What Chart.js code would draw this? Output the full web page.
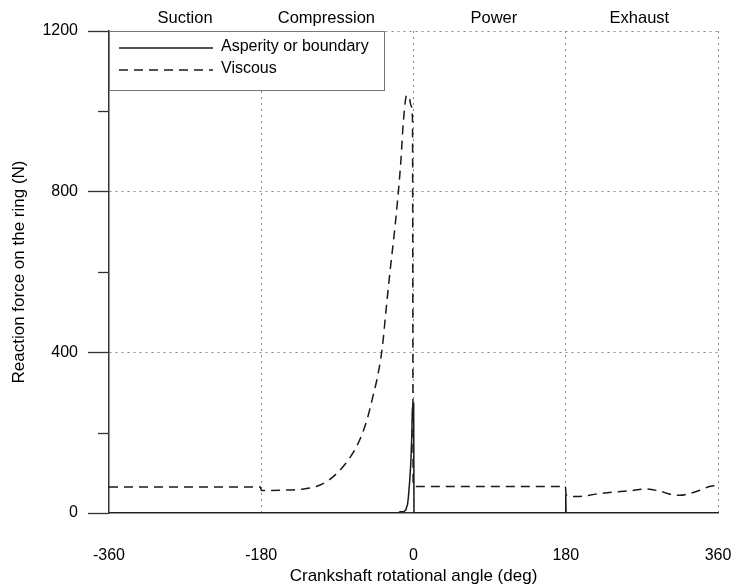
<!DOCTYPE html>
<html lang="en">
<head>
    <meta charset="UTF-8">
    <title>Reaction force on the ring</title>
    <script src="https://cdn.jsdelivr.net/npm/chart.js"></script>
    <style>
        html, body { margin: 0; padding: 0; background: #fff; }
        #wrap { width: 733px; height: 587px; }
    </style>
</head>
<body>
    <div id="wrap"><canvas id="ringChart"></canvas></div>

    <script>
        // Crank angle (deg) and forces (N)
        const viscousAngle = [-360, -181, -180, -170, -150, -130, -115, -100, -90, -80, -70, -62, -55, -48, -42, -37, -32, -27, -23, -19, -15, -12, -8, -5, -3, -1.2, -0.4, 0.5, 179.5, 180.5, 195, 215, 235, 255, 275, 290, 305, 315, 327, 340, 350, 357, 360];
        const viscousForce = [65, 65, 56, 56, 57, 60, 66, 82, 100, 124, 155, 190, 232, 290, 345, 410, 515, 616, 690, 775, 874, 974, 1040, 1035, 1015, 980, 70, 66, 66, 45, 41, 47, 52, 55, 60, 55, 46, 44, 49, 58, 66, 68, 62];

        const asperityAngle = [-360, -18, -16, -11, -9, -7, -6, -4.5, -3.4, -2.2, -1.4, -0.5, 0.2, 0.6, 179.6, 180, 180.4, 360];
        const asperityForce = [0, 0, 3, 4, 8, 22, 40, 80, 116, 180, 257, 272, 275, 0, 0, 45, 0, 0];

        const phaseNames = ['Suction', 'Compression', 'Power', 'Exhaust'];
        const phaseAngles = [-270, -103, 95, 267];

        const yLabelled = [0, 400, 800, 1200];
        const yGrid = [400, 800, 1200];

        const FONT = "'Liberation Sans', Arial, sans-serif";
        const INK = '#1a1a1a';

        const toPoints = (xs, ys) => xs.map((x, i) => ({ x: x, y: ys[i] }));

        // no extra side padding for overhanging tick labels
        const noSidePad = s => { s.paddingLeft = 0; s.paddingRight = 0; };

        // Legend drawn inside the plot, top left, with white box
        const boxLegend = {
            id: 'boxLegend',
            afterDraw(chart) {
                const ctx = chart.ctx;
                const a = chart.chartArea;
                const x = a.left, y = a.top, w = 275, h = 59;
                ctx.save();
                ctx.fillStyle = '#fff';
                ctx.fillRect(x, y, w, h);
                ctx.strokeStyle = '#777';
                ctx.lineWidth = 1;
                ctx.strokeRect(x + 0.5, y + 0.5, w, h);
                ctx.font = '16px ' + FONT;
                ctx.fillStyle = '#000';
                ctx.textBaseline = 'middle';
                chart.data.datasets.forEach((ds, i) => {
                    const ly = y + 17 + i * 22;
                    ctx.strokeStyle = INK;
                    ctx.lineWidth = 1.4;
                    ctx.setLineDash(ds.borderDash || []);
                    ctx.beginPath();
                    ctx.moveTo(x + 10, ly);
                    ctx.lineTo(x + 104, ly);
                    ctx.stroke();
                    ctx.setLineDash([]);
                    ctx.fillText(ds.label, x + 112, ly - 1);
                });
                ctx.restore();
            }
        };

        // short minor ticks on the y axis
        const minorTicks = {
            id: 'minorTicks',
            afterDraw(chart) {
                const s = chart.scales.y;
                const ctx = chart.ctx;
                ctx.save();
                ctx.strokeStyle = '#333';
                ctx.lineWidth = 1.3;
                s.ticks.forEach(t => {
                    if (yLabelled.includes(t.value)) return;
                    const py = Math.round(s.getPixelForValue(t.value)) + 0.5;
                    ctx.beginPath();
                    ctx.moveTo(s.right - 11, py);
                    ctx.lineTo(s.right, py);
                    ctx.stroke();
                });
                ctx.restore();
            }
        };

        const chart = new Chart(document.getElementById('ringChart'), {
            type: 'line',
            data: {
                datasets: [{
                    label: 'Asperity or boundary',
                    data: toPoints(asperityAngle, asperityForce),
                    borderColor: INK,
                    borderWidth: 1.5,
                    pointRadius: 0,
                    tension: 0
                }, {
                    label: 'Viscous',
                    data: toPoints(viscousAngle, viscousForce),
                    borderColor: INK,
                    borderWidth: 1.5,
                    borderDash: [9, 6],
                    pointRadius: 0,
                    tension: 0.3,
                    cubicInterpolationMode: 'monotone'
                }]
            },
            options: {
                responsive: true,
                maintainAspectRatio: false,
                animation: false,
                layout: { padding: { left: 0, right: 15, top: 0, bottom: 0 } },
                plugins: {
                    legend: { display: false },
                    tooltip: { enabled: false }
                },
                scales: {
                    x: {
                        type: 'linear',
                        position: 'bottom',
                        min: -360,
                        max: 360,
                        afterFit: s => { s.height = 74; noSidePad(s); },
                        ticks: {
                            stepSize: 180,
                            padding: 33,
                            color: '#000',
                            font: { family: FONT, size: 16 }
                        },
                        grid: {
                            drawTicks: false,
                            color: c => (c.tick && c.tick.value === -360) ? 'rgba(0,0,0,0)' : '#888'
                        },
                        border: { color: '#333', width: 1.5, dash: [2, 4] },
                        title: {
                            display: true,
                            text: 'Crankshaft rotational angle (deg)',
                            color: '#000',
                            font: { family: FONT, size: 17 },
                            padding: 0
                        }
                    },
                    x2: {
                        type: 'linear',
                        position: 'top',
                        min: -360,
                        max: 360,
                        afterFit: s => { s.height = 31; noSidePad(s); },
                        afterBuildTicks: s => { s.ticks = phaseAngles.map(v => ({ value: v })); },
                        ticks: {
                            padding: 3,
                            color: '#000',
                            font: { family: FONT, size: 16.5 },
                            callback: v => phaseNames[phaseAngles.indexOf(v)]
                        },
                        grid: { display: false, drawTicks: false },
                        border: { display: false }
                    },
                    y: {
                        min: 0,
                        max: 1200,
                        afterFit: s => { s.width = 109; },
                        ticks: {
                            stepSize: 200,
                            padding: 10,
                            color: '#000',
                            font: { family: FONT, size: 16 },
                            callback: v => yLabelled.includes(v) ? v : ''
                        },
                        grid: {
                            tickLength: 21,
                            color: c => (c.tick && yGrid.includes(c.tick.value)) ? '#888' : 'rgba(0,0,0,0)',
                            tickColor: c => (c.tick && yLabelled.includes(c.tick.value)) ? '#333' : 'rgba(0,0,0,0)',
                            tickWidth: 1.3
                        },
                        border: { color: '#333', width: 1.5, dash: [2, 4] },
                        title: {
                            display: true,
                            text: 'Reaction force on the ring (N)',
                            color: '#000',
                            font: { family: FONT, size: 17 },
                            padding: { top: 9, bottom: 0 }
                        }
                    }
                }
            },
            plugins: [minorTicks, boxLegend]
        });
    </script>
</body>
</html>
